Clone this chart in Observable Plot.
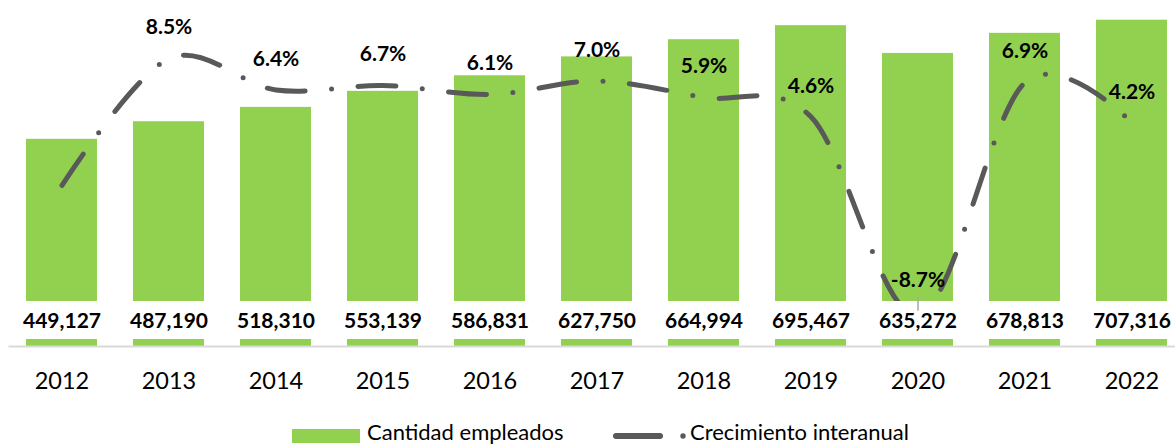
<!DOCTYPE html>
<html>
<head>
<meta charset="utf-8">
<script src="https://cdn.jsdelivr.net/npm/d3@7"></script>
<script src="https://cdn.jsdelivr.net/npm/@observablehq/plot@0.6"></script>
<style>
  body { margin: 0; background: #fff; font-family: Lato, sans-serif; }
  #wrap { position: relative; width: 1175px; height: 446px; overflow: hidden; background: #fff; }
  #legend { position: absolute; left: 0; top: 421px; width: 1175px; height: 25px; font-size: 22px; color: #000; }
  .lg { position: absolute; top: 0; line-height: 22px; white-space: nowrap; }
</style>
</head>
<body>
<div id="wrap">
  <div id="chart"></div>
  <div id="legend">
    <div class="lg" style="left:292px;top:8px;width:68px;height:14px;background:#92d050"></div>
    <div class="lg" style="left:367px">Cantidad empleados</div>
    <svg class="lg" style="left:608px;top:0" width="82" height="25">
      <line x1="8" y1="15" x2="52" y2="15" stroke="#595959" stroke-width="6" stroke-linecap="round"/>
      <circle cx="75" cy="15" r="2.7" fill="#595959"/>
    </svg>
    <div class="lg" style="left:690px">Crecimiento interanual</div>
  </div>
</div>
<script>
const years = ["2012", "2013", "2014", "2015", "2016", "2017", "2018", "2019", "2020", "2021", "2022"];
const empleados = [449127, 487190, 518310, 553139, 586831, 627750, 664994, 695467, 635272, 678813, 707316];
const crecimiento = [0, 8.5, 6.4, 6.7, 6.1, 7.0, 5.9, 4.6, -8.7, 6.9, 4.2];
const crecimientoLabels = ["", "8.5%", "6.4%", "6.7%", "6.1%", "7.0%", "5.9%", "4.6%", "-8.7%", "6.9%", "4.2%"];

const yDomain = [0, 750000];
const growthDomain = [-10.8, 12.4];
// secondary axis mapped onto the primary y domain
const g = d3.scaleLinear().domain(growthDomain).range(yDomain);

const table = years.map((year, i) => ({
  year,
  empleados: empleados[i],
  crecimiento: crecimiento[i],
  label: crecimientoLabels[i]
}));

const green = "#92d050";
const lineColor = "#595959";

const chart = Plot.plot({
  width: 1175,
  height: 410,
  marginTop: 0,
  marginBottom: 64,
  marginLeft: 8.5,
  marginRight: -10.5,
  style: { fontFamily: "Lato, sans-serif", fontSize: "23.5px", background: "white", color: "#000", overflow: "hidden" },
  x: { domain: years, paddingInner: 0.336, paddingOuter: 0.168, tickSize: 0, tickPadding: 26, label: null },
  y: { domain: yDomain, axis: null },
  marks: [
    Plot.barY(table, { x: "year", y: "empleados", fill: green }),
    Plot.ruleY([0], { stroke: "#d9d9d9", strokeWidth: 2 }),
    Plot.line(table, {
      x: "year",
      y: d => g(d.crecimiento),
      stroke: lineColor,
      strokeWidth: 5,
      strokeLinecap: "round",
      strokeDasharray: "38 26.5 0 26.5",
      curve: "cardinal"
    }),
    Plot.barY(table, { x: "year", y1: 0, y2: 0, insetTop: -45, insetBottom: 7, insetLeft: -6, insetRight: -6, fill: "white" }),
    Plot.text(table, {
      x: "year", y: 0, dy: -25,
      text: d => d3.format(",")(d.empleados),
      fontSize: 21, fontWeight: "bold", fill: "#000"
    }),
    Plot.ruleX(table.filter(d => d.crecimiento < 0), {
      x: "year", y1: d => g(d.crecimiento), y2: d => g(d.crecimiento),
      insetTop: -18, insetBottom: 4, stroke: "#a6a6a6", strokeWidth: 1.5
    }),
    Plot.text(table.filter(d => d.label && d.crecimiento >= 0), {
      x: "year", y: d => g(d.crecimiento), dy: -31,
      text: "label", fontSize: 21, fontWeight: "bold", fill: "#000"
    }),
    Plot.text(table.filter(d => d.label && d.crecimiento < 0), {
      x: "year", y: d => g(d.crecimiento), dy: -35,
      text: "label", fontSize: 21, fontWeight: "bold", fill: "#000"
    })
  ]
});
document.getElementById("chart").appendChild(chart);
</script>
</body>
</html>
